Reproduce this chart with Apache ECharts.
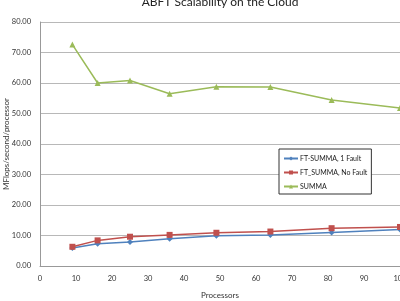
<!DOCTYPE html>
<html><head><meta charset="utf-8">
<script src="https://cdn.jsdelivr.net/npm/echarts@6/dist/echarts.min.js"></script>
<style>html,body{margin:0;padding:0;background:#fff}#c{width:400px;height:301px}</style>
</head><body><div id="c"></div>
<script>
const processors = [9, 16, 25, 36, 49, 64, 81, 100];
const ftOneFault = [5.9, 7.3, 7.9, 8.9, 9.9, 10.2, 11.0, 12.0];
const ftNoFault = [6.3, 8.4, 9.6, 10.2, 10.9, 11.3, 12.4, 12.8];
const summa = [72.6, 60.0, 60.8, 56.5, 58.8, 58.7, 54.4, 51.8];
const seriesNames = ['FT-SUMMA, 1 Fault', 'FT_SUMMA, No Fault', 'SUMMA'];
const title = 'ABFT Scalability on the Cloud';
const xName = 'Processors';
const yName = 'MFlops/second/processor';

const font = 'Lato, "Open Sans", sans-serif';
const pair = (xs, ys) => xs.map((x, i) => [x, ys[i]]);
const chart = echarts.init(document.getElementById('c'), null, {renderer: 'canvas'});
const mk = (name, data, color, symbol, size) => ({
  name, type: 'line', data: pair(processors, data), symbol, symbolSize: size,
  lineStyle: {color, width: 1.5}, itemStyle: {color}, emphasis: {disabled: true}
});
chart.setOption({
  animation: false,
  textStyle: {fontFamily: font},
  title: {text: title, left: 215, textAlign: 'center', top: -9,
    textStyle: {fontFamily: font, fontSize: 12, fontWeight: 'normal', color: '#222'}},
  grid: {left: 40, right: 0, top: 22, bottom: 35, containLabel: false, outerBoundsMode: 'none'},
  xAxis: {type: 'value', min: 0, max: 100, interval: 10,
    name: xName, nameLocation: 'middle', nameGap: 25, nameMoveOverlap: false,
    nameTextStyle: {fontFamily: font, fontSize: 8, color: '#333'},
    axisLine: {show: true, lineStyle: {color: '#999'}}, axisTick: {show: false},
    axisLabel: {fontSize: 7.5, color: '#333', margin: 9, fontFamily: font, hideOverlap: false},
    splitLine: {show: false}},
  yAxis: {type: 'value', min: 0, max: 80, interval: 10,
    name: yName, nameLocation: 'middle', nameGap: 30, nameMoveOverlap: false,
    nameTextStyle: {fontFamily: font, fontSize: 8, color: '#333'},
    axisLine: {show: true, lineStyle: {color: '#999'}}, axisTick: {show: false},
    axisLabel: {fontSize: 7.5, color: '#333', margin: 9, fontFamily: font,
      formatter: v => v.toFixed(2)},
    splitLine: {show: true, lineStyle: {color: '#b8b8b8', width: 1}}},
  legend: {orient: 'vertical', left: 279, top: 149, width: 99, height: 49,
    padding: [6, 4, 4, 4], itemGap: 7, itemWidth: 14, itemHeight: 5,
    backgroundColor: '#fff', borderColor: '#333', borderWidth: 1,
    textStyle: {fontSize: 7, color: '#222', fontFamily: font, padding: [0, 0, 0, -3]},
    data: seriesNames},
  series: [
    mk(seriesNames[0], ftOneFault, '#4F81BD', 'diamond', 6),
    mk(seriesNames[1], ftNoFault, '#C0504D', 'rect', 6),
    mk(seriesNames[2], summa, '#9BBB59', 'triangle', 6)
  ]
});
</script></body></html>
